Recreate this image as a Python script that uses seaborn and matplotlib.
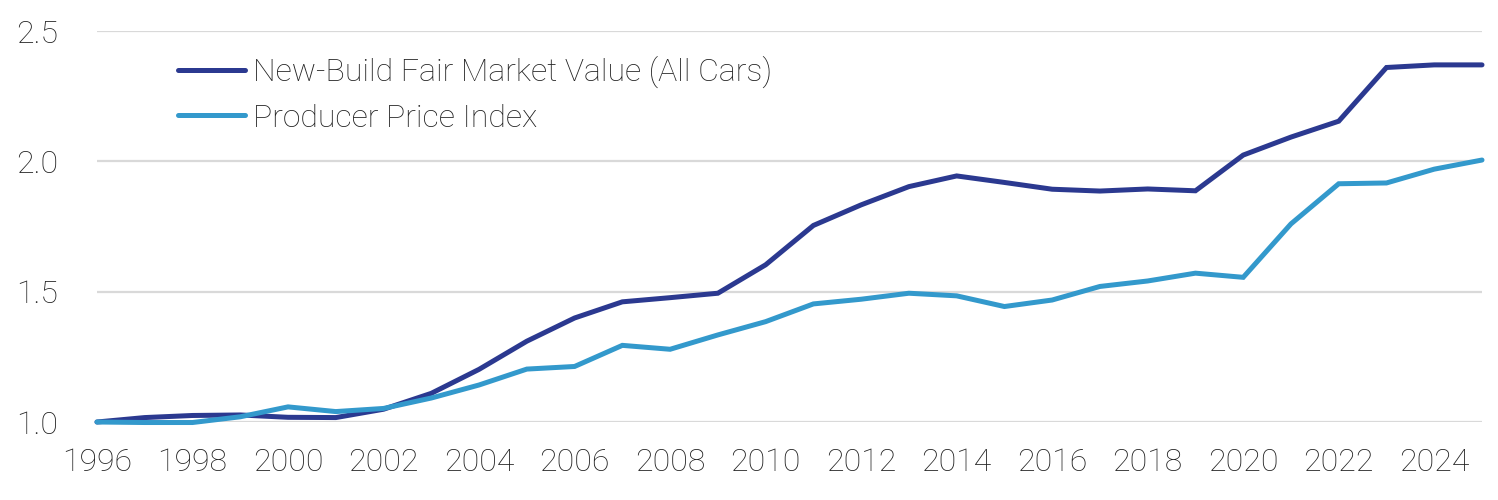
import matplotlib
matplotlib.use("Agg")
import matplotlib.pyplot as plt
import seaborn as sns
import pandas as pd
from matplotlib.ticker import FormatStrFormatter

years = list(range(1996, 2026))
fair_market_value = [1.000, 1.017, 1.025, 1.027, 1.018, 1.017, 1.049, 1.110, 1.202, 1.310,
                     1.399, 1.461, 1.477, 1.494, 1.603, 1.754, 1.833, 1.903, 1.944, 1.919,
                     1.893, 1.886, 1.894, 1.887, 2.024, 2.093, 2.154, 2.360, 2.370, 2.370]
producer_price_index = [1.000, 0.998, 0.998, 1.020, 1.058, 1.040, 1.052, 1.092, 1.142, 1.203,
                        1.213, 1.294, 1.279, 1.334, 1.385, 1.453, 1.471, 1.494, 1.484, 1.443,
                        1.468, 1.520, 1.541, 1.571, 1.555, 1.760, 1.914, 1.917, 1.970, 2.005]
series_names = ["New-Build Fair Market Value (All Cars)", "Producer Price Index"]
colors = ["#2B3990", "#3399CC"]
x_ticks = list(range(1996, 2025, 2))
y_ticks = [1.0, 1.5, 2.0, 2.5]

df = pd.DataFrame({
    "year": years * 2,
    "value": fair_market_value + producer_price_index,
    "series": [series_names[0]] * len(years) + [series_names[1]] * len(years),
})

sns.set_theme(style="white")
plt.rcParams["font.family"] = ["Roboto", "DejaVu Sans"]

FS = 23

fig = plt.figure(figsize=(14.98, 5.00), dpi=100)
ax = fig.add_axes([97 / 1498, 1 - 422 / 500, (1482 - 97) / 1498, (422 - 31) / 500])

sns.lineplot(data=df, x="year", y="value", hue="series", palette=colors,
             linewidth=3.6, ax=ax, clip_on=False, solid_capstyle="round",
             solid_joinstyle="miter", legend=True)

ax.set_xlim(1996, 2025)
ax.set_ylim(1.0, 2.5)
ax.set_xticks(x_ticks)
ax.set_yticks(y_ticks)
ax.yaxis.set_major_formatter(FormatStrFormatter("%.1f"))
ax.grid(axis="y", color="#D9D9D9", linewidth=1.6)
ax.grid(axis="x", visible=False)
ax.set_axisbelow(True)
for s in ax.spines.values():
    s.set_visible(False)
ax.set_xlabel("")
ax.set_ylabel("")
ax.tick_params(axis="both", length=0, labelsize=FS, labelcolor="#222222")
ax.tick_params(axis="x", pad=19)
ax.tick_params(axis="y", pad=28)
for lbl in ax.get_xticklabels() + ax.get_yticklabels():
    lbl.set_fontweight("light")

leg = ax.legend(loc="upper left", bbox_to_anchor=((178 - 97) / 1385, 1 - (56 - 31) / 391),
                frameon=False, fontsize=FS, handlelength=2.1, handletextpad=0.25,
                labelspacing=0.48, borderpad=0, borderaxespad=0)
for t in leg.get_texts():
    t.set_color("#222222")
    t.set_fontweight("light")
for h in leg.get_lines():
    h.set_linewidth(3.6)
    h.set_solid_capstyle("round")

fig.savefig("out.png", dpi=100)
